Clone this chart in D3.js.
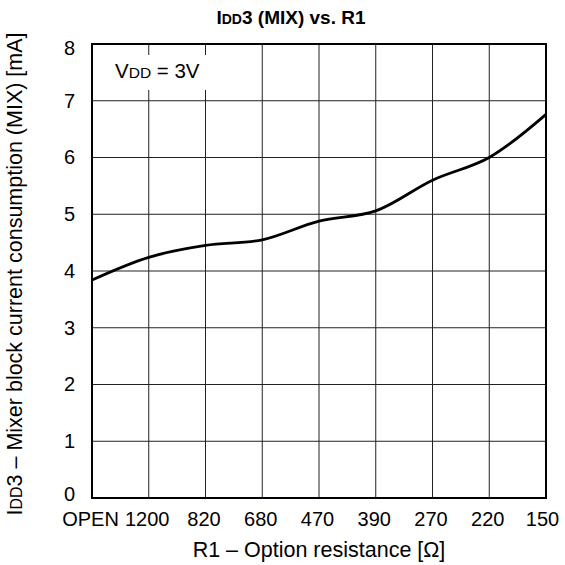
<!DOCTYPE html>
<html>
<head>
<meta charset="utf-8">
<script src="https://cdn.jsdelivr.net/npm/d3@7"></script>
<style>
  body { margin: 0; background: #fff; }
  text { font-family: "Liberation Sans", Arial, sans-serif; fill: #000; }
</style>
</head>
<body>
<div id="chart"></div>
<script>
// R1 option resistance (categories, left to right)
var categories = ["OPEN", "1200", "820", "680", "470", "390", "270", "220", "150"];
// IDD3 (MIX) current [mA] at each category
var idd3 = [3.84, 4.24, 4.45, 4.55, 4.88, 5.06, 5.60, 6.00, 6.76];
var yTicks = [0, 1, 2, 3, 4, 5, 6, 7, 8];

var margin = {top: 44, right: 19, bottom: 67, left: 92},
    width = 565 - margin.left - margin.right,
    height = 565 - margin.top - margin.bottom;

var svg = d3.select("#chart")
  .append("svg")
    .attr("width", 565)
    .attr("height", 565);

var g = svg.append("g")
    .attr("transform", "translate(" + margin.left + "," + margin.top + ")");

var x = d3.scalePoint()
    .domain(categories)
    .range([0, width]);

var y = d3.scaleLinear()
    .domain([0, 8])
    .range([height, 0]);

// grid
g.append("g")
    .attr("class", "grid")
    .selectAll("line.h")
    .data(yTicks)
  .enter().append("line")
    .attr("x1", 0).attr("x2", width)
    .attr("y1", function(d) { return y(d); })
    .attr("y2", function(d) { return y(d); })
    .attr("stroke", "#222").attr("stroke-width", 1);

g.append("g")
    .selectAll("line.v")
    .data(categories)
  .enter().append("line")
    .attr("y1", 0).attr("y2", height)
    .attr("x1", function(d) { return x(d); })
    .attr("x2", function(d) { return x(d); })
    .attr("stroke", "#222").attr("stroke-width", 1);

// axes (labels only, lines come from the grid + frame)
var xAxis = g.append("g")
    .attr("transform", "translate(0," + height + ")")
    .call(d3.axisBottom(x).tickSize(0).tickPadding(14));
xAxis.select(".domain").remove();
xAxis.selectAll("text")
    .style("font-size", "20px")
    .attr("dx", function(d, i) { return i == categories.length - 1 ? "-4px" : "-2px"; });

var yAxis = g.append("g")
    .call(d3.axisLeft(y).tickValues(yTicks).tickSize(0).tickPadding(17));
yAxis.select(".domain").remove();
yAxis.selectAll("text")
    .style("font-size", "20px")
    .attr("dy", function(d) { return d == 0 ? "0.1em" : (d == 8 ? "0.5em" : "0.32em"); });

// curve
var line = d3.line()
    .x(function(d, i) { return x(categories[i]); })
    .y(function(d) { return y(d); })
    .curve(d3.curveCatmullRom.alpha(0.5));

g.append("path")
    .datum(idd3)
    .attr("fill", "none")
    .attr("stroke", "#000")
    .attr("stroke-width", 2.8)
    .attr("d", line);

// VDD label with white box over the grid
g.append("rect")
    .attr("x", 14).attr("y", 11)
    .attr("width", 106).attr("height", 35)
    .attr("fill", "#fff");

var vdd = g.append("text")
    .attr("x", 23).attr("y", 34)
    .style("font-size", "20.5px");
vdd.append("tspan").text("V");
vdd.append("tspan").style("font-size", "15.5px").text("DD");
vdd.append("tspan").text(" = 3V");

// frame
g.append("rect")
    .attr("width", width).attr("height", height)
    .attr("fill", "none")
    .attr("stroke", "#000")
    .attr("stroke-width", 2);

// title
var title = svg.append("text")
    .attr("x", 291).attr("y", 24)
    .attr("text-anchor", "middle")
    .style("font-size", "19px")
    .style("font-weight", "bold");
title.append("tspan").text("I");
title.append("tspan").style("font-size", "14px").text("DD");
title.append("tspan").text("3 (MIX) vs. R1");

// axis titles
svg.append("text")
    .attr("x", margin.left + width / 2).attr("y", 557)
    .attr("text-anchor", "middle")
    .style("font-size", "21.5px")
    .text("R1 \u2013 Option resistance [\u03A9]");

var yt = svg.append("text")
    .attr("transform", "translate(22," + (margin.top + height / 2 + 3) + ") rotate(-90)")
    .attr("text-anchor", "middle")
    .style("font-size", "21.5px");
yt.append("tspan").text("I");
yt.append("tspan").style("font-size", "16px").text("DD");
yt.append("tspan").text("3 \u2013 Mixer block current consumption (MIX) [mA]");
</script>
</body>
</html>
